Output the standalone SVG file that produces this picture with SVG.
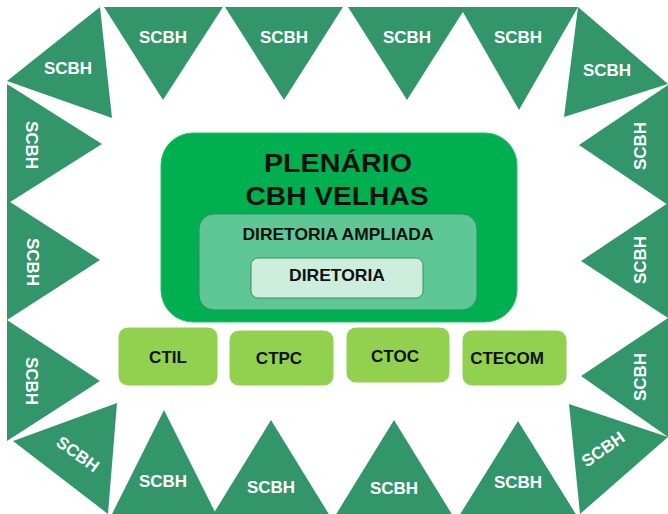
<svg xmlns="http://www.w3.org/2000/svg" width="668" height="514" viewBox="0 0 668 514">
<style>
.tri{fill:#33966B;}
.st{font-family:"Liberation Sans",Arial,sans-serif;font-weight:bold;font-size:17px;fill:#ffffff;text-anchor:middle;}
.bt{font-family:"Liberation Sans",Arial,sans-serif;font-weight:bold;fill:#111111;text-anchor:middle;}
.ct{fill:#92D050;stroke:#ffffff;stroke-width:1;}
</style>
<rect width="668" height="514" fill="#ffffff"/>
<g id="scbh-top-left-corner"><polygon class="tri" points="100,7 7,81 112,118"/><text class="st" x="68" y="74">SCBH</text></g>
<g id="scbh-top-1"><polygon class="tri" points="104,7 223,7 163,100"/><text class="st" x="163" y="43">SCBH</text></g>
<g id="scbh-top-2"><polygon class="tri" points="225,7 343,7 284,100"/><text class="st" x="284" y="43">SCBH</text></g>
<g id="scbh-top-3"><polygon class="tri" points="348,7 466,7 407,100"/><text class="st" x="407" y="43">SCBH</text></g>
<g id="scbh-top-4"><polygon class="tri" points="460,7 578,7 519,110"/><text class="st" x="518" y="43">SCBH</text></g>
<g id="scbh-top-right-corner"><polygon class="tri" points="578,7 668,84 564,117"/><text class="st" x="607" y="76">SCBH</text></g>
<g id="scbh-left-1"><polygon class="tri" points="7,84 7,204 102,144"/><text class="st" transform="translate(32,145) rotate(90)" y="6">SCBH</text></g>
<g id="scbh-left-2"><polygon class="tri" points="7,200 7,320 100,260"/><text class="st" transform="translate(33,262) rotate(90)" y="6">SCBH</text></g>
<g id="scbh-left-3"><polygon class="tri" points="7,320 7,441 100,381"/><text class="st" transform="translate(32,381) rotate(90)" y="6">SCBH</text></g>
<g id="scbh-bottom-left-corner"><polygon class="tri" points="13,441 117,403 108,514"/><text class="st" transform="translate(78,454) rotate(36)" y="6">SCBH</text></g>
<g id="scbh-bottom-1"><polygon class="tri" points="164,410 111,516 217,516"/><text class="st" x="163" y="487">SCBH</text></g>
<g id="scbh-bottom-2"><polygon class="tri" points="271,420 212,516 330,516"/><text class="st" x="271" y="493">SCBH</text></g>
<g id="scbh-bottom-3"><polygon class="tri" points="394,420 335,516 453,516"/><text class="st" x="394" y="494">SCBH</text></g>
<g id="scbh-bottom-4"><polygon class="tri" points="518,421 459,516 577,516"/><text class="st" x="518" y="488">SCBH</text></g>
<g id="scbh-bottom-right-corner"><polygon class="tri" points="569,404 668,437 580,514"/><text class="st" transform="translate(603,449) rotate(-35)" y="6">SCBH</text></g>
<g id="scbh-right-1"><polygon class="tri" points="668,85 668,205 579,145"/><text class="st" transform="translate(640,146) rotate(-90)" y="6">SCBH</text></g>
<g id="scbh-right-2"><polygon class="tri" points="668,203 668,318 581,261"/><text class="st" transform="translate(640,260) rotate(-90)" y="6">SCBH</text></g>
<g id="scbh-right-3"><polygon class="tri" points="668,318 668,437 581,376"/><text class="st" transform="translate(640,377) rotate(-90)" y="6">SCBH</text></g>
<g id="plenario">
<rect x="161" y="133" width="356" height="189" rx="32" fill="#00B050" stroke="#2DBE6A" stroke-width="1"/>
<text class="bt" x="338" y="172" font-size="26" textLength="148" lengthAdjust="spacingAndGlyphs">PLENÁRIO</text>
<text class="bt" x="337" y="205" font-size="26" textLength="183" lengthAdjust="spacingAndGlyphs">CBH VELHAS</text>
</g>
<g id="diretoria-ampliada">
<rect x="199" y="214" width="278" height="96" rx="15" fill="#5FC796" stroke="#2F8F5F" stroke-width="1"/>
<text class="bt" x="338" y="240" font-size="16.5" textLength="191" lengthAdjust="spacingAndGlyphs">DIRETORIA AMPLIADA</text>
</g>
<g id="diretoria">
<rect x="251" y="258" width="172" height="40" rx="7" fill="#CDEEDC" stroke="#3A8F63" stroke-width="1"/>
<text class="bt" x="337" y="281" font-size="17" textLength="96" lengthAdjust="spacingAndGlyphs">DIRETORIA</text>
</g>
<g id="ctil"><rect class="ct" x="118" y="327" width="100" height="59" rx="10"/><text class="bt" x="168" y="363" font-size="17">CTIL</text></g>
<g id="ctpc"><rect class="ct" x="229" y="330" width="105" height="56" rx="10"/><text class="bt" x="279" y="364" font-size="17">CTPC</text></g>
<g id="ctoc"><rect class="ct" x="346" y="327" width="104" height="56" rx="10"/><text class="bt" x="395" y="362" font-size="17">CTOC</text></g>
<g id="ctecom"><rect class="ct" x="462" y="330" width="105" height="56" rx="10"/><text class="bt" x="507" y="364" font-size="17">CTECOM</text></g>
<g id="connectors"></g>
</svg>
